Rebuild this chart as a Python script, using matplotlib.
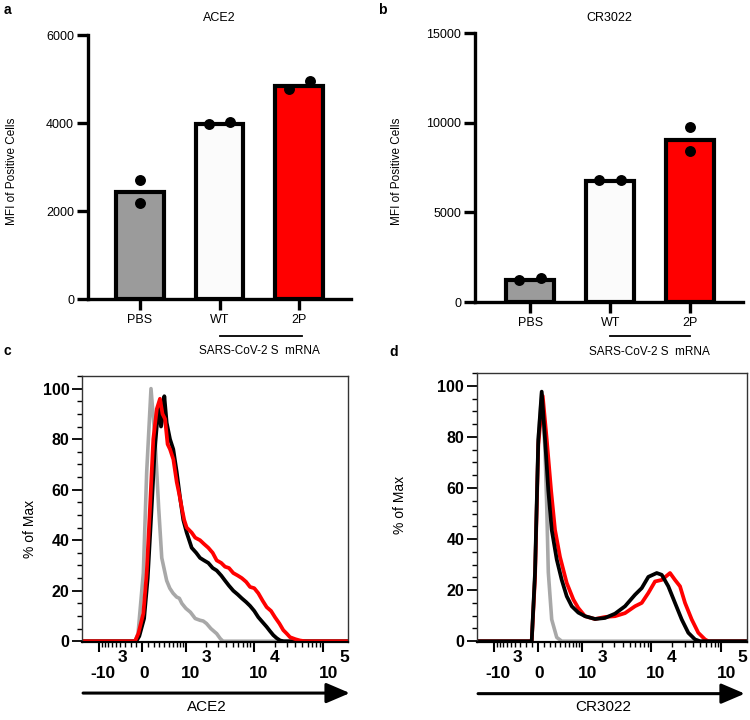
import numpy as np
import matplotlib
matplotlib.use("Agg")
import matplotlib.pyplot as plt
from matplotlib.ticker import FixedLocator, NullFormatter, MultipleLocator

plt.rcParams['font.family'] = ['Liberation Sans', 'DejaVu Sans']

# bar panels (a, b)
groups = ["PBS", "WT", "2P"]
bar_colors = ["#9b9b9b", "#fbfbfb", "#ff0000"]

ace2_bar = [2430, 3980, 4850]
ace2_pts = [[2705, 2180], [3980, 4030], [4780, 4960]]
cr3022_bar = [1230, 6720, 9050]
cr3022_pts = [[1230, 1350], [6780, 6780], [9760, 8440]]

# flow histograms (c, d): fluorescence value vs % of max
c_gray_x = [-5000, -122, -71, 17, 73, 146, 217, 284, 345, 449, 520, 603, 700, 780, 858, 1000,
            1180, 1400, 1655, 1850, 2070, 2400, 2920, 3300, 3610, 300000]
c_gray_y = [0, 0, 3, 27, 67, 100, 80, 53, 33, 24, 21, 19, 17.5, 17, 15, 13,
            11.5, 9, 8.3, 8, 7, 5, 3, 1, 0, 0]

c_black_x = [-5000, -100, -50, 30, 90, 150, 210, 260, 290, 330, 377, 398, 449, 526, 608, 702,
             800, 908, 1030, 1235, 1450, 1655, 1900, 2200, 2550, 2920, 3400, 3860, 4400, 5085,
             5900, 6740, 7800, 8870, 10200, 11680, 13500, 15400, 17200, 19200, 21500, 24000,
             27000, 300000]
c_black_y = [0, 0, 2, 9, 25, 50, 75, 88, 92, 85, 90, 97, 86.5, 80, 76, 67,
             57, 48, 43, 37, 35, 33, 32, 31, 29, 28, 26, 24, 22, 20,
             18.5, 17, 15.5, 14, 12, 9.5, 7.5, 5.7, 4, 2.4, 1.2, 0.3,
             0, 0]

c_red_x = [-5000, -122, -66, 17, 73, 129, 186, 250, 310, 360, 413, 470, 526, 610, 702, 780,
           854, 940, 1030, 1130, 1235, 1400, 1655, 1900, 2200, 2550, 2920, 3400, 3860, 4400,
           5085, 5900, 6740, 7800, 8870, 10200, 11680, 13500, 15400, 17800, 20300, 23500,
           26700, 30000, 33400, 40000, 46500, 54900, 300000]
c_red_y = [0, 0, 3, 11, 27, 53, 80, 92, 96, 90, 88, 78, 76, 72, 63, 58,
           53, 48, 45, 44, 43, 41, 40, 38.5, 37, 35, 32, 31, 29.5, 29,
           27, 26, 25, 23.5, 21.5, 21, 19, 16, 13.5, 12, 9.5, 7,
           4.4, 3, 1.6, 0.8, 0.3, 0, 0]

d_gray_x = [-5000, -102, -47, 6.5, 62, 117, 146, 173, 233, 327, 429, 300000]
d_gray_y = [0, 0, 27, 79, 97, 75, 53, 27, 8.5, 1.5, 0, 0]

d_black_x = [-5000, -102, -47, 6.5, 62, 117, 173, 233, 327, 429, 543, 672, 868, 1110, 1574,
             2205, 3080, 4280, 5940, 7400, 9190, 12090, 14240, 17640, 21950, 27350, 33900,
             42200, 49700, 300000]
d_black_y = [0, 0, 27, 79, 97.7, 79, 59, 43.6, 32, 24, 17.6, 13.7, 11.2, 9.8, 8.7,
             9.1, 10.8, 13.7, 18.2, 20.8, 25.2, 26.7, 26, 21.5, 15, 8.5, 3.3,
             0.7, 0, 0]

d_red_x = [-5000, -102, -47, 6.5, 79, 146, 222, 294, 393, 543, 718, 868, 1110, 1574, 2205,
           3080, 4280, 5940, 7400, 9190, 11430, 14240, 18660, 21950, 25850, 30450, 37900,
           47000, 58500, 65200, 300000]
d_red_y = [0, 0, 25, 77, 96, 79, 59, 43.6, 33, 22.8, 16.3, 13, 9.8, 8.7, 9.5,
           9.8, 11, 13.7, 15, 18.9, 23.4, 24, 26.7, 24, 21.5, 15, 8.5,
           3.3, 0.7, 0, 0]

fig = plt.figure(figsize=(7.5, 7.2), dpi=100)


def bar_panel(rect, bars, pts, jit, ymax, step, title, title_dy, xlim, ylab_xy):
    ax = fig.add_axes(rect)
    x = np.arange(len(groups))
    ax.bar(x, bars, width=0.6, color=bar_colors, edgecolor='black', linewidth=3, zorder=2)
    for i in range(len(groups)):
        ax.scatter(x[i] + np.array(jit[i]), pts[i], s=62, color='black', zorder=3,
                   clip_on=False, linewidths=0)
    ax.set_xlim(*xlim)
    ax.set_ylim(0, ymax)
    ax.yaxis.set_major_locator(MultipleLocator(step))
    ax.set_xticks(x)
    ax.set_xticklabels(groups)
    for s in ['top', 'right']:
        ax.spines[s].set_visible(False)
    for s in ['left', 'bottom']:
        ax.spines[s].set_linewidth(2.4)
    ax.tick_params(width=2.4, length=8, labelsize=9, pad=2)
    ax.tick_params(axis='x', pad=3)
    ax.text(0.5, 1 + title_dy, title, transform=ax.transAxes, ha='center', va='center',
            fontsize=9)
    ax.set_ylabel("MFI of Positive Cells", fontsize=8.5)
    ax.yaxis.set_label_coords(*ylab_xy)
    # group bracket under WT and 2P
    tr = ax.get_xaxis_transform()
    return ax, tr


ax_a, tr_a = bar_panel([88 / 750, 1 - 299 / 720, 263 / 750, 264 / 720], ace2_bar, ace2_pts,
                       [[0, 0], [-0.13, 0.13], [-0.13, 0.13]], 6000, 2000, "ACE2",
                       17 / 264, (-0.65, 2.65), (-0.266, 0.482))
ax_a.plot([1.0, 2.03], [-0.14, -0.14], color='black', lw=1.3, transform=tr_a, clip_on=False)
ax_a.text(1.5, -0.197, "SARS-CoV-2 S  mRNA", transform=tr_a, ha='center', va='center',
          fontsize=8.5)

ax_b, tr_b = bar_panel([475 / 750, 1 - 302 / 720, 268 / 750, 269 / 720], cr3022_bar, cr3022_pts,
                       [[-0.14, 0.14], [-0.14, 0.14], [0, 0]], 15000, 5000, "CR3022",
                       15 / 269, (-0.69, 2.66), (-0.268, 0.484))
ax_b.plot([1.0, 2.0], [-0.126, -0.126], color='black', lw=1.3, transform=tr_b, clip_on=False)
ax_b.text(1.49, -0.185, "SARS-CoV-2 S  mRNA", transform=tr_b, ha='center', va='center',
          fontsize=8.5)

major_x = [-1000, 0, 1000, 10000, 100000]
minor_x = ([-100 * k for k in range(1, 10)] + [100 * k for k in range(1, 10)] +
           [1000 * k for k in range(2, 10)] + [10000 * k for k in range(2, 10)])
exp_labels = [("-10", "3"), ("0", ""), ("10", "3"), ("10", "4"), ("10", "5")]


def hist_panel(rect, curves, xlabel, ylab_xy, arrow_x):
    ax = fig.add_axes(rect)
    for xs, ys, col, lw in curves:
        ax.plot(xs, ys, color=col, lw=lw, solid_joinstyle='round')
    ax.set_xscale('asinh', linear_width=500)
    ax.set_xlim(-1810, 228000)
    ax.set_ylim(-0.3, 105)
    ax.xaxis.set_major_locator(FixedLocator(major_x))
    ax.xaxis.set_minor_locator(FixedLocator(minor_x))
    ax.xaxis.set_major_formatter(NullFormatter())
    ax.xaxis.set_minor_formatter(NullFormatter())
    ax.yaxis.set_major_locator(MultipleLocator(20))
    ax.yaxis.set_minor_locator(MultipleLocator(5))
    for s in ['top', 'right', 'left']:
        ax.spines[s].set_linewidth(1.0)
        ax.spines[s].set_color('#333333')
    ax.spines['bottom'].set_linewidth(1.6)
    ax.tick_params(axis='y', which='major', length=7, width=1.3, labelsize=11.5, pad=2)
    ax.tick_params(axis='y', which='minor', length=3.5, width=1.0)
    ax.tick_params(axis='x', which='major', length=7, width=1.5)
    ax.tick_params(axis='x', which='minor', length=3.5, width=1.0)
    for lab in ax.get_yticklabels():
        lab.set_fontweight('bold')
    tr = ax.get_xaxis_transform()
    for v, (base, sup) in zip(major_x, exp_labels):
        dx = 4.5 if base == "-10" else (1.5 if base == "0" else 5)
        ax.annotate(base, xy=(v, 0), xycoords=tr, xytext=(dx, -31),
                    textcoords='offset pixels', ha='center', va='center',
                    fontsize=12.5, fontweight='bold')
        if sup:
            sx = 19 if base == "-10" else 16
            ax.annotate(sup, xy=(v, 0), xycoords=tr, xytext=(sx, -16),
                        textcoords='offset pixels', ha='left', va='center',
                        fontsize=12.5, fontweight='bold')
    ax.annotate('', xy=(arrow_x[1], -0.192), xytext=(arrow_x[0], -0.192),
                xycoords='axes fraction',
                arrowprops=dict(arrowstyle='-|>,head_length=1.03,head_width=0.44',
                                lw=2.2, color='black', shrinkA=0, shrinkB=0,
                                mutation_scale=14))
    ax.text(0.47, -0.243, xlabel, transform=ax.transAxes, ha='center', va='center',
            fontsize=11)
    ax.set_ylabel("% of Max", fontsize=10)
    ax.yaxis.set_label_coords(*ylab_xy)
    return ax


hist_panel([82 / 750, 1 - 642 / 720, 266 / 750, 266 / 720],
           [(c_gray_x, c_gray_y, '#a8a8a8', 2.6),
            (c_black_x, c_black_y, 'black', 2.7),
            (c_red_x, c_red_y, '#ff0000', 2.7)],
           "ACE2", (-0.168, 0.425), (0.004, 1.007))

hist_panel([476.7 / 750, 1 - 642 / 720, 270 / 750, 269 / 720],
           [(d_gray_x, d_gray_y, '#a8a8a8', 2.6),
            (d_red_x, d_red_y, '#ff0000', 2.7),
            (d_black_x, d_black_y, 'black', 2.7)],
           "CR3022", (-0.257, 0.509), (0.005, 0.993))

for letter, px, py in [("a", 7, 10), ("b", 382, 10), ("c", 7, 351), ("d", 394, 352)]:
    fig.text(px / 750, 1 - py / 720, letter, ha='center', va='center', fontsize=10,
             fontweight='bold')

fig.savefig("out.png", dpi=100)
